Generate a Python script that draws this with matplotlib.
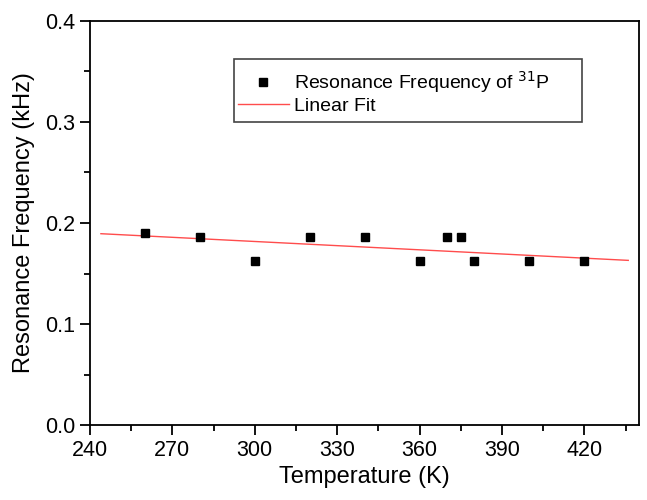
import numpy as np
import matplotlib.pyplot as plt
from matplotlib.ticker import MultipleLocator
from matplotlib.patches import Rectangle

plt.rcParams['font.family'] = ['Liberation Sans', 'DejaVu Sans']

# measured resonance frequency of 31P
temperature = [260, 280, 300, 320, 340, 360, 370, 375, 380, 400, 420]
frequency = [0.190, 0.186, 0.162, 0.186, 0.186, 0.162, 0.186, 0.186, 0.162, 0.162, 0.162]

# linear fit line, ends
fit_x = [244, 436]
fit_y = [0.1894, 0.1630]

fig = plt.figure(figsize=(6.47, 5.0), dpi=100)
ax = fig.add_axes([0.139, 0.15, 0.849, 0.808])

ax.plot(temperature, frequency, 's', color='black', markersize=5.8,
        label='Resonance Frequency of $^{31}$P', zorder=3)
ax.plot(fit_x, fit_y, '-', color='#ff4c4c', lw=1.0,
        label='Linear Fit', zorder=2)

ax.set_xlim(240, 440)
ax.set_ylim(0.0, 0.4)
ax.xaxis.set_major_locator(MultipleLocator(30))
ax.xaxis.set_minor_locator(MultipleLocator(15))
ax.yaxis.set_major_locator(MultipleLocator(0.1))
ax.yaxis.set_minor_locator(MultipleLocator(0.05))
ax.yaxis.set_major_formatter(plt.FormatStrFormatter('%.1f'))

for s in ax.spines.values():
    s.set_linewidth(1.3)

ax.tick_params(which='both', direction='out', top=False, right=False,
               labelsize=15.5, width=1.3)
ax.tick_params(which='major', length=7)
ax.tick_params(which='minor', length=4)

ax.set_xlabel('Temperature (K)', fontsize=17, labelpad=4)
ax.set_ylabel('Resonance Frequency (kHz)', fontsize=17, labelpad=7)

# legend box drawn by hand so the padding matches
box = Rectangle((0.262, 0.750), 0.634, 0.156, transform=ax.transAxes,
                facecolor='white', edgecolor='#444444', lw=1.2, zorder=4)
ax.add_patch(box)
leg = ax.legend(loc='upper left', bbox_to_anchor=(0.2696, 0.882),
                fontsize=14, frameon=False, handlelength=2.6,
                handletextpad=0.3, borderpad=0.0, labelspacing=0.15,
                borderaxespad=0.0)
leg.set_zorder(5)

fig.savefig('out.png', dpi=100)
